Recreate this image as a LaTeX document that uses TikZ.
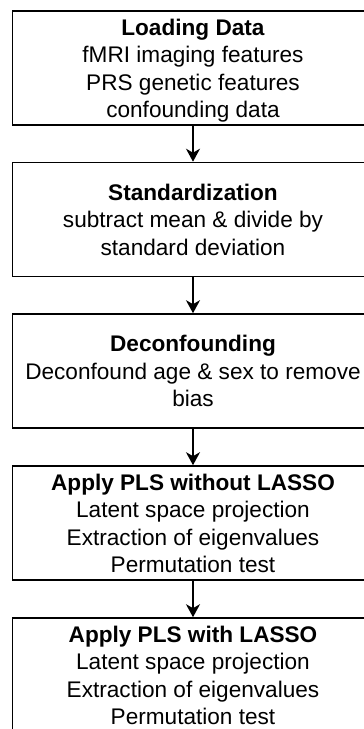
\documentclass[tikz,border=0pt]{standalone}
\usepackage{fontspec}
\setmainfont{Liberation Sans}
\usetikzlibrary{arrows.meta}
\newcommand{\ls}{\rule[-5.5pt]{0pt}{27.5pt}}
\tikzset{
  stepbox/.style={draw=black, line width=1.6pt, minimum width=361pt, minimum height=114pt,
    inner sep=0pt, align=center, font=\fontsize{22.6}{27.5}\selectfont},
  flow/.style={draw=black, line width=1.6pt, -{Stealth[length=13pt, width=14pt, inset=4pt]}}
}
\begin{document}
\begin{tikzpicture}[x=1pt,y=1pt]
\clip (0,0) rectangle (364,-729);
\useasboundingbox (0,0) rectangle (364,-729);
\node[stepbox] (load) at (193,-68) {\ls\textbf{Loading Data}\\\ls fMRI imaging features\\\ls PRS genetic features\\\ls confounding data};
\node[stepbox] (std) at (193,-219.5) {\ls\textbf{Standardization}\\\ls subtract mean \& divide by\\\ls standard deviation};
\node[stepbox] (dec) at (193,-371) {\ls\textbf{Deconfounding}\\\ls Deconfound age \& sex to remove\\\ls bias};
\node[stepbox] (pls) at (193,-523) {\ls\textbf{Apply PLS without LASSO}\\\ls Latent space projection\\\ls Extraction of eigenvalues\\\ls Permutation test};
\node[stepbox] (lasso) at (193,-675) {\ls\textbf{Apply PLS with LASSO}\\\ls Latent space projection\\\ls Extraction of eigenvalues\\\ls Permutation test};
\draw[flow] (load) -- (std);
\draw[flow] (std) -- (dec);
\draw[flow] (dec) -- (pls);
\draw[flow] (pls) -- (lasso);
\end{tikzpicture}
\end{document}
